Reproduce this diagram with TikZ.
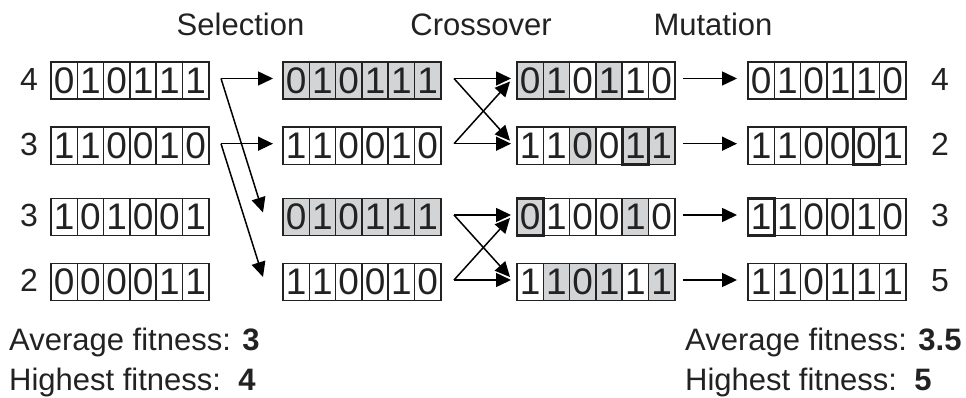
\documentclass[tikz,border=0pt]{standalone}
\usepackage{fontspec}
\setmainfont{Liberation Sans}
\usetikzlibrary{arrows.meta}
\definecolor{cg}{HTML}{D3D4D6}
\definecolor{ink}{HTML}{222222}
\newcommand\bitstr[4]{%
  \foreach \b/\f [count=\i] in {#4} {%
    \node[cell,\f] (#1-\i) at ({#2+(\i-0.5)*26.3},#3) {\b};}}
\begin{document}
\begin{tikzpicture}[x=1pt,y=-1pt,
  cell/.style={draw=ink, line width=1.5pt, minimum width=26.3pt, minimum height=37.4pt,
    inner sep=0pt, outer sep=0pt, font=\fontsize{37}{37}\selectfont, text=ink},
  g/.style={fill=cg}, w/.style={fill=white},
  thickcell/.style={draw=ink, line width=2.6pt},
  arr/.style={draw=black, line width=1.5pt, -{Triangle[length=15pt,width=14pt]}},
  lbl/.style={font=\fontsize{32}{32}\selectfont, text=ink, inner sep=0pt},
  hdr/.style={font=\fontsize{31}{31}\selectfont, text=ink, inner sep=0pt, anchor=base},
  txt/.style={font=\fontsize{31}{31}\selectfont, text=ink, inner sep=0pt, anchor=base west}]
\useasboundingbox (0,0) rectangle (966,398);

% headers
\node[hdr] (hsel) at (240.5,36) {Selection};
\node[hdr] (hcro) at (481,36) {Crossover};
\node[hdr] (hmut) at (713,36) {Mutation};

% column 1 (initial population)
\bitstr{a1}{51}{80.5}{0/w,1/w,0/w,1/w,1/w,1/w}
\bitstr{a2}{51}{145.7}{1/w,1/w,0/w,0/w,1/w,0/w}
\bitstr{a3}{51}{217}{1/w,0/w,1/w,0/w,0/w,1/w}
\bitstr{a4}{51}{282}{0/w,0/w,0/w,0/w,1/w,1/w}
\node[lbl] (fa1) at (29,79) {4};
\node[lbl] (fa2) at (29,144.2) {3};
\node[lbl] (fa3) at (29,215.5) {3};
\node[lbl] (fa4) at (29,280.5) {2};

% column 2 (selected)
\bitstr{b1}{283}{80.5}{0/g,1/g,0/g,1/g,1/g,1/g}
\bitstr{b2}{283}{145.7}{1/w,1/w,0/w,0/w,1/w,0/w}
\bitstr{b3}{283}{217}{0/g,1/g,0/g,1/g,1/g,1/g}
\bitstr{b4}{283}{282}{1/w,1/w,0/w,0/w,1/w,0/w}

% column 3 (after crossover)
\bitstr{c1}{517}{80.5}{0/g,1/g,0/w,1/g,1/w,0/w}
\bitstr{c2}{517}{145.7}{1/w,1/w,0/g,0/w,1/g,1/g}
\bitstr{c3}{517}{217}{0/g,1/w,0/w,0/w,1/g,0/w}
\bitstr{c4}{517}{282}{1/w,1/g,0/g,1/g,1/w,1/g}
\draw[thickcell] (c2-5.north west) rectangle (c2-5.south east);
\draw[thickcell] (c3-1.north west) rectangle (c3-1.south east);

% column 4 (after mutation)
\bitstr{d1}{748}{80.5}{0/w,1/w,0/w,1/w,1/w,0/w}
\bitstr{d2}{748}{145.7}{1/w,1/w,0/w,0/w,0/w,1/w}
\bitstr{d3}{748}{217}{1/w,1/w,0/w,0/w,1/w,0/w}
\bitstr{d4}{748}{282}{1/w,1/w,0/w,1/w,1/w,1/w}
\draw[thickcell] (d2-5.north west) rectangle (d2-5.south east);
\draw[thickcell] (d3-1.north west) rectangle (d3-1.south east);
\node[lbl] (fd1) at (940,79) {4};
\node[lbl] (fd2) at (940,144.2) {2};
\node[lbl] (fd3) at (940,215.5) {3};
\node[lbl] (fd4) at (940,280.5) {5};

% selection arrows
\coordinate (s1) at (221,78.5);
\coordinate (s2) at (221,143.7);
\coordinate (sd1) at (263,212.5);
\coordinate (sd2) at (263,277);
\draw[arr, shorten >=10pt] (s1) -- (s1 -| b1-1.west);
\draw[arr, shorten >=10pt] (s2) -- (s2 -| b2-1.west);
\draw[arr] (s1) -- (sd1);
\draw[arr] (s2) -- (sd2);

% crossover arrows
\coordinate (x1) at (454,78.5);
\coordinate (x2) at (454,143.7);
\coordinate (x3) at (454,215);
\coordinate (x4) at (454,280);
\coordinate (xd1) at (510,140.7);
\coordinate (xd2) at (510,81.5);
\coordinate (xd3) at (510,277);
\coordinate (xd4) at (510,218);
\draw[arr] (x1) -- (xd1);
\draw[arr] (x2) -- (xd2);
\draw[arr] (x3) -- (xd3);
\draw[arr] (x4) -- (xd4);
\draw[arr, shorten >=6pt] (x1) -- (x1 -| c1-1.west);
\draw[arr, shorten >=6pt] (x2) -- (x2 -| c2-1.west);
\draw[arr, shorten >=6pt] (x3) -- (x3 -| c3-1.west);
\draw[arr, shorten >=6pt] (x4) -- (x4 -| c4-1.west);

% mutation arrows
\coordinate (m1) at (683,78.5);
\coordinate (m2) at (683,143.7);
\coordinate (m3) at (683,215);
\coordinate (m4) at (683,280);
\draw[arr, shorten >=11pt] (m1) -- (m1 -| d1-1.west);
\draw[arr, shorten >=11pt] (m2) -- (m2 -| d2-1.west);
\draw[arr, shorten >=11pt] (m3) -- (m3 -| d3-1.west);
\draw[arr, shorten >=11pt] (m4) -- (m4 -| d4-1.west);

% summaries
\node[txt] (avg1) at (9,350) {Average fitness: \textbf{3}};
\node[txt] (hi1) at (9,390) {Highest fitness:~~\textbf{4}};
\node[txt] (avg2) at (685,350) {Average fitness: \textbf{3.5}};
\node[txt] (hi2) at (685,390) {Highest fitness:~~\textbf{5}};
\end{tikzpicture}
\end{document}
